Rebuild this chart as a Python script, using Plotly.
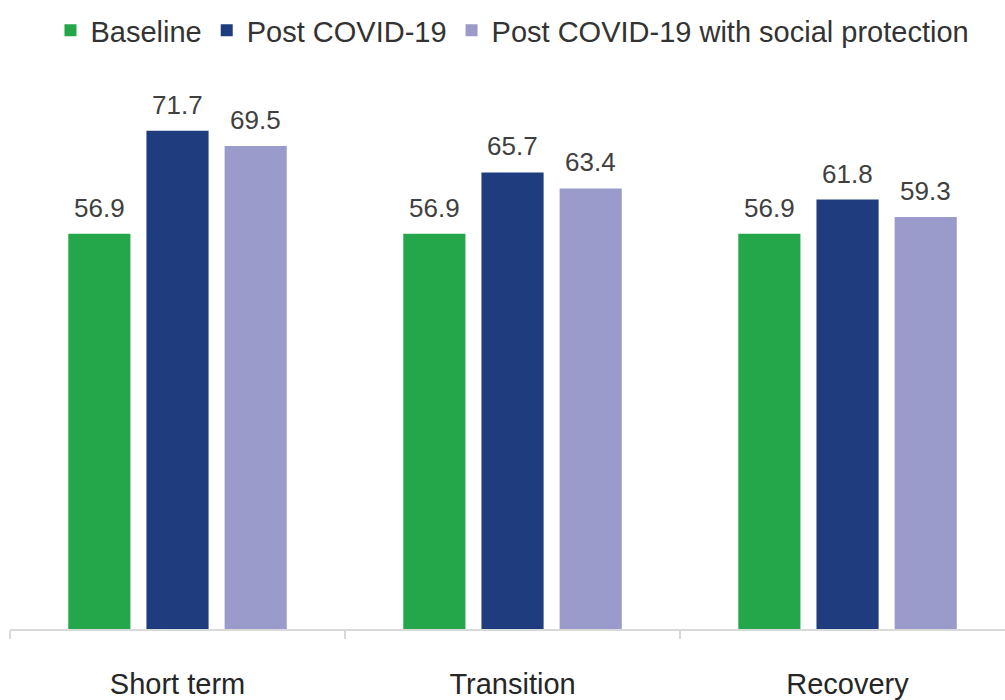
import plotly.graph_objects as go

categories = ["Short term", "Transition", "Recovery"]
baseline = [56.9, 56.9, 56.9]
post_covid = [71.7, 65.7, 61.8]
post_covid_sp = [69.5, 63.4, 59.3]

series_names = ["Baseline", "Post COVID-19", "Post COVID-19 with social protection"]
colors = ["#24A74B", "#1F3C7E", "#9B9BCB"]
FONT = "Liberation Sans, Arial, Helvetica, sans-serif"
TXT = "#404040"

all_series = [baseline, post_covid, post_covid_sp]

fig = go.Figure()
for name, vals, col in zip(series_names, all_series, colors):
    fig.add_trace(go.Bar(
        name=name, x=categories, y=vals,
        marker=dict(color=col, line=dict(width=0)),
    ))

# data labels above bars (offset per series within group)
slot_px = 78
for i, vals in enumerate(all_series):
    for cat, v in zip(categories, vals):
        fig.add_annotation(
            x=cat, y=v, xref="x", yref="y",
            text=f"{v:.1f}", showarrow=False,
            xanchor="center", yanchor="bottom",
            xshift=(i - 1) * slot_px, yshift=9,
            font=dict(family=FONT, size=26, color=TXT),
        )

fig.update_layout(
    width=1005, height=700,
    margin=dict(l=10, r=0, t=62, b=65),
    paper_bgcolor="white", plot_bgcolor="white",
    barmode="group", bargap=0.30, bargroupgap=0.205,
    font=dict(family=FONT, color=TXT, size=29),
    showlegend=True,
    legend=dict(orientation="h", x=0.505, xanchor="center", y=0.993, yanchor="top",
                yref="container", font=dict(size=29, color="#333333"), traceorder="normal"),
    xaxis=dict(showline=True, linecolor="#D9D9D9", linewidth=1.5, ticks="outside",
               tickson="boundaries", ticklen=8, tickcolor="#D9D9D9", tickwidth=1.5,
               range=[-0.5, 2.47],
               showgrid=False, tickfont=dict(size=29, color="#262626"), ticklabelstandoff=28),
    yaxis=dict(range=[0, 81.6], visible=False, showgrid=False, zeroline=False),
)

fig.write_html("out.html")
